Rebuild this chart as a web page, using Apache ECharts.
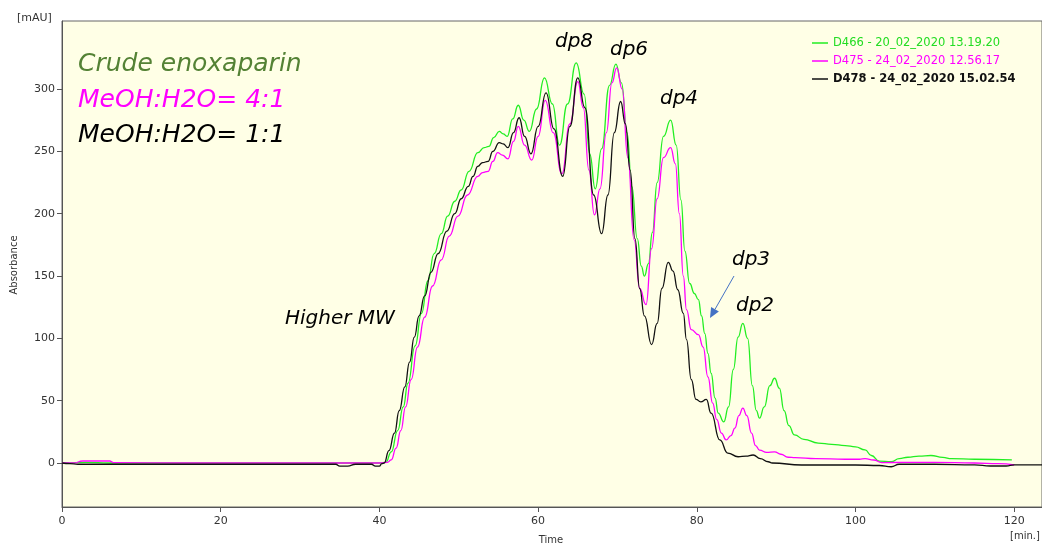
<!DOCTYPE html>
<html>
<head>
<meta charset="utf-8">
<style>
  html, body { margin: 0; padding: 0; background: #fff; }
  #main { width: 1042px; height: 544px; }
</style>
<script src="https://cdn.jsdelivr.net/npm/echarts@6/dist/echarts.min.js"></script>
</head>
<body>
<div id="main"></div>
<script>
// ticks
var xTicks = [0, 20, 40, 60, 80, 100, 120]
var yTicks = [0, 50, 100, 150, 200, 250, 300]

var seriesNames = ['D466 - 20_02_2020 13.19.20', 'D475 - 24_02_2020 12.56.17', 'D478 - 24_02_2020 15.02.54']

// [time (min), absorbance (mAU)]
var d466 = [
  [0, 0], [3, 0.5], [6, 0], [15, 0], [25, 0], [35, 0], [40, 0],
  [40.8, 0.5], [41.5, 9], [42.3, 26], [43.0, 45], [43.6, 64], [44.5, 94], [45.3, 120], [46.1, 146],
  [46.9, 168], [47.8, 184], [48.6, 198], [49.5, 210], [50.3, 219], [51.3, 234], [52.4, 249], [53.2, 253],
  [53.8, 254], [54.4, 261], [55.1, 266], [55.6, 264], [56.1, 262], [56.8, 276], [57.5, 287], [58.2, 275],
  [58.9, 266], [59.8, 284], [60.8, 309], [61.8, 288], [62.7, 255], [63.7, 288], [64.8, 321], [65.8, 296],
  [66.5, 248], [67.2, 220], [68.0, 252], [69.0, 303], [69.8, 320], [70.5, 305], [71.2, 265], [71.8, 222],
  [72.5, 180], [73.0, 158], [73.4, 150], [73.9, 160], [74.4, 185], [75.0, 225], [75.8, 262], [76.7, 275],
  [77.4, 255], [78.0, 211], [78.5, 170], [79.1, 144], [79.7, 136], [80.2, 131], [80.6, 118], [81.0, 104],
  [81.4, 88], [81.8, 72], [82.3, 52], [82.7, 40], [83.4, 33], [84.0, 45], [84.6, 75], [85.2, 101],
  [85.8, 112], [86.4, 100], [87.0, 62], [87.5, 42], [87.9, 36], [88.5, 45], [89.2, 62], [89.8, 68],
  [90.4, 60], [91.0, 42], [91.6, 30], [92.3, 22.5], [93.5, 19], [95.3, 16], [97.0, 15], [98.7, 14],
  [100.0, 13], [101.2, 10.5], [102.0, 6], [103.0, 1.5], [104.5, 1], [105.5, 3.5], [106.6, 4.6], [108.0, 5.5],
  [109.5, 6], [111.0, 4.5], [112.1, 3.5], [115.0, 3], [119.7, 2.5]
]

var d475 = [
  [0, 0], [1.5, 0], [2.6, 1.6], [6, 1.6], [6.5, 0.3], [15, 0], [25, 0], [35, 0], [40, 0],
  [41.0, 0.5], [41.5, 2.5], [42.1, 12], [42.7, 26], [43.3, 45], [44.0, 67], [44.8, 93], [45.7, 117],
  [46.7, 142], [47.8, 163], [48.8, 182], [49.9, 198], [51.1, 215], [52.4, 230], [53.0, 233], [53.7, 234],
  [54.3, 242], [54.9, 249], [55.5, 247], [56.2, 244], [56.9, 258], [57.5, 270], [58.3, 255], [59.2, 243],
  [60.0, 262], [60.9, 291], [61.9, 265], [63.0, 232], [64.0, 272], [65.0, 306], [65.7, 285], [66.4, 235],
  [67.1, 199], [67.8, 220], [68.6, 265], [69.3, 305], [69.9, 317], [70.6, 300], [71.3, 245], [72.1, 179],
  [72.8, 140], [73.6, 127], [74.3, 172], [75.0, 212], [75.8, 245], [76.7, 253], [77.3, 240], [77.8, 200],
  [78.3, 150], [78.7, 123], [79.3, 107], [80.2, 103], [80.8, 93], [81.4, 69], [82.0, 48], [82.5, 35],
  [83.1, 24], [83.7, 18.5], [84.3, 22], [84.8, 28], [85.3, 38], [85.8, 44], [86.3, 38], [86.9, 24],
  [87.4, 14], [87.9, 10.4], [88.8, 8.5], [89.8, 9], [90.6, 7], [91.5, 4.6], [92.4, 4.3], [95.0, 3.5],
  [98.7, 3], [100.5, 3], [101.2, 3.5], [102.3, 2.4], [103.3, 0.3], [106, 0.5], [110, 0.5], [115, 0],
  [118, -0.5], [120, -1.6]
]

var d478 = [
  [0, 0], [1, -0.5], [2, -1], [10, -1], [20, -1], [30, -1], [34.5, -1], [35, -2.5], [36, -2.5], [37, -1],
  [39, -1], [39.5, -2.5], [40, -2.5], [40.3, -0.5], [40.6, 0], [41.2, 10], [41.9, 24], [42.5, 42], [43.2, 61],
  [43.8, 81], [44.4, 101], [45.0, 118], [45.7, 134], [46.5, 153], [47.4, 168], [48.5, 186], [49.5, 200],
  [50.3, 212], [51.2, 222], [51.8, 230], [52.4, 238], [53.0, 241], [53.7, 242], [54.3, 250], [55.1, 257],
  [55.6, 256], [56.2, 253], [56.9, 265], [57.6, 277], [58.3, 262], [59.1, 248], [60.0, 270], [61.0, 297],
  [62.0, 268], [63.1, 230], [64.0, 270], [65.0, 309], [65.9, 285], [67.0, 215], [68.0, 184], [68.8, 215],
  [69.6, 265], [70.4, 290], [71.0, 272], [71.6, 235], [72.2, 180], [72.8, 140], [73.4, 118], [74.3, 95],
  [75.0, 112], [75.6, 140], [76.4, 161], [77.0, 154], [77.6, 139], [78.3, 120], [78.7, 99], [79.3, 67],
  [79.9, 51], [80.5, 49], [81.2, 51], [81.8, 40], [82.9, 18.5], [83.9, 8], [85.2, 5], [86.2, 5.5],
  [87.1, 6.4], [88.0, 3.5], [89.0, 1], [89.5, 0], [93.2, -1.6], [100, -1.6], [103, -2], [104.5, -3],
  [105.5, -1], [110, -1], [115, -1.5], [117, -2.4], [119, -2.4], [120, -1.5], [123.5, -1.5]
]

var colors = ['#22ee22', '#ff00ff', '#111111']
var tickFont = { color: '#333', fontSize: 11, fontFamily: 'DejaVu Sans' }
var noteFont = 'italic 20px "DejaVu Sans"'
var bigFont = 'italic 25px "DejaVu Sans"'

function lineSeries (name, data, color) {
  return {
    name: name,
    type: 'line',
    data: data,
    showSymbol: false,
    smooth: 0.5,
    smoothMonotone: 'x',
    lineStyle: { color: color, width: 1.3 },
    itemStyle: { color: color },
    z: 3
  }
}

var myChart = echarts.init(document.getElementById('main'))
myChart.setOption({
  animation: false,
  backgroundColor: '#fff',
  grid: {
    left: 62,
    right: 0,
    top: 21,
    bottom: 37,
    show: true,
    backgroundColor: '#ffffe6',
    borderColor: '#666',
    borderWidth: 1
  },
  legend: {
    orient: 'vertical',
    left: 807,
    top: 32,
    itemWidth: 16,
    itemHeight: 1.5,
    itemGap: 6,
    icon: 'rect',
    textStyle: { fontSize: 11.5, fontFamily: 'DejaVu Sans' },
    data: [
      { name: seriesNames[0], textStyle: { color: '#22dd22' } },
      { name: seriesNames[1], textStyle: { color: '#ff00ff' } },
      { name: seriesNames[2], textStyle: { color: '#111', fontWeight: 'bold' } }
    ]
  },
  xAxis: {
    type: 'value',
    min: 0,
    max: 123.5,
    splitLine: { show: false },
    axisLine: { show: true, onZero: false, lineStyle: { color: '#555' } },
    axisTick: { show: true, length: 5, customValues: xTicks, lineStyle: { color: '#555' } },
    axisLabel: Object.assign({ margin: 9, customValues: xTicks }, tickFont)
  },
  yAxis: {
    type: 'value',
    min: -35.3,
    max: 354.6,
    splitLine: { show: false },
    axisLine: { show: true, onZero: false, lineStyle: { color: '#555' } },
    axisTick: { show: true, length: 5, customValues: yTicks, lineStyle: { color: '#555' } },
    axisLabel: Object.assign({ margin: 7, customValues: yTicks }, tickFont)
  },
  graphic: [
    { type: 'text', style: { text: '[mAU]', x: 17, y: 18, verticalAlign: 'middle', font: '11px DejaVu Sans', fill: '#333' } },
    { type: 'text', rotation: Math.PI / 2, x: 14, y: 265, style: { text: 'Absorbance', align: 'center', verticalAlign: 'middle', font: '10px DejaVu Sans', fill: '#333' } },
    { type: 'text', style: { text: 'Time', x: 551, y: 540, align: 'center', verticalAlign: 'middle', font: '10px DejaVu Sans', fill: '#333' } },
    { type: 'text', style: { text: '[min.]', x: 1010, y: 536, verticalAlign: 'middle', font: '10px DejaVu Sans', fill: '#333' } },
    { type: 'text', style: { text: 'Crude enoxaparin', x: 78, y: 64, verticalAlign: 'middle', font: bigFont, fill: '#548235' } },
    { type: 'text', style: { text: 'MeOH:H2O= 4:1', x: 78, y: 100, verticalAlign: 'middle', font: bigFont, fill: '#ff00ff' } },
    { type: 'text', style: { text: 'MeOH:H2O= 1:1', x: 78, y: 135, verticalAlign: 'middle', font: bigFont, fill: '#000' } },
    { type: 'text', style: { text: 'dp8', x: 574, y: 42, align: 'center', verticalAlign: 'middle', font: noteFont, fill: '#000' } },
    { type: 'text', style: { text: 'dp6', x: 629, y: 50, align: 'center', verticalAlign: 'middle', font: noteFont, fill: '#000' } },
    { type: 'text', style: { text: 'dp4', x: 679, y: 99, align: 'center', verticalAlign: 'middle', font: noteFont, fill: '#000' } },
    { type: 'text', style: { text: 'dp3', x: 751, y: 260, align: 'center', verticalAlign: 'middle', font: noteFont, fill: '#000' } },
    { type: 'text', style: { text: 'dp2', x: 755, y: 306, align: 'center', verticalAlign: 'middle', font: noteFont, fill: '#000' } },
    { type: 'text', style: { text: 'Higher MW', x: 285, y: 319, verticalAlign: 'middle', font: noteFont, fill: '#000' } },
    // arrow pointing at dp3
    { type: 'line', shape: { x1: 734, y1: 276, x2: 715, y2: 309.3 }, style: { stroke: '#4472c4', lineWidth: 1 } },
    { type: 'polygon', shape: { points: [[710, 318], [718.9, 311.5], [711.1, 307.1]] }, style: { fill: '#4472c4' } }
  ],
  series: [
    lineSeries(seriesNames[0], d466, colors[0]),
    lineSeries(seriesNames[1], d475, colors[1]),
    lineSeries(seriesNames[2], d478, colors[2])
  ]
})
</script>
</body>
</html>
